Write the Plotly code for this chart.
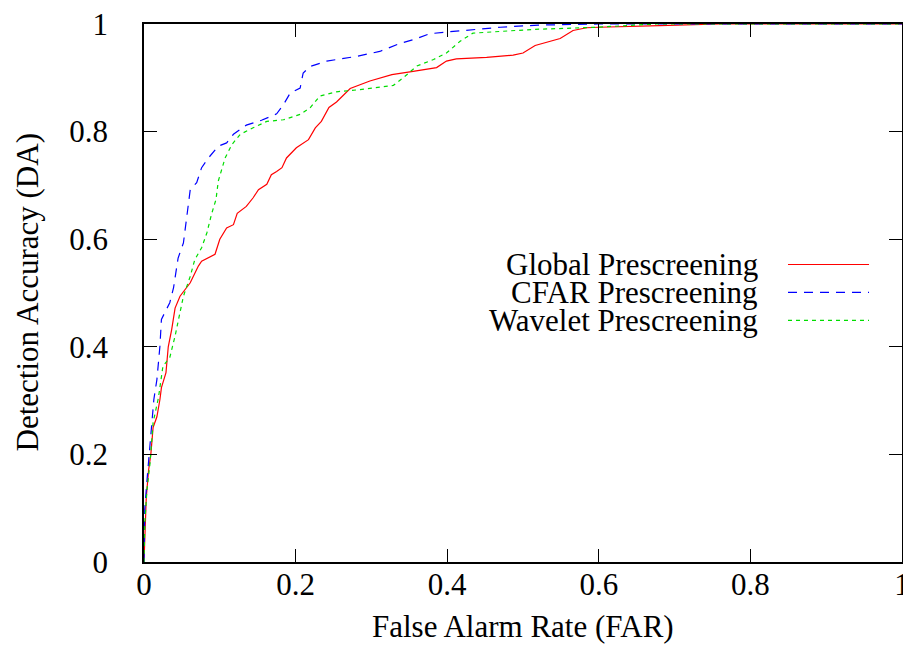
import plotly.graph_objects as go

# Global Prescreening
global_far = [0, 0.001, 0.003, 0.006, 0.009, 0.012, 0.017, 0.021, 0.023, 0.029, 0.032, 0.0365, 0.041, 0.0475,
              0.061, 0.0717, 0.076, 0.0937, 0.1, 0.109, 0.118, 0.123, 0.129, 0.135, 0.144, 0.151, 0.162, 0.168,
              0.175, 0.182, 0.188, 0.201, 0.217, 0.226, 0.234, 0.244, 0.254, 0.272, 0.298, 0.327, 0.355, 0.386,
              0.399, 0.412, 0.452, 0.487, 0.5, 0.516, 0.549, 0.566, 0.584, 0.6, 0.68, 0.76, 1.0]
global_da = [0, 0.06, 0.12, 0.17, 0.2, 0.25, 0.27, 0.302, 0.324, 0.352, 0.40, 0.432, 0.472, 0.494,
             0.519, 0.55, 0.559, 0.572, 0.6, 0.621, 0.627, 0.648, 0.655, 0.661, 0.677, 0.692, 0.702, 0.72,
             0.726, 0.733, 0.751, 0.77, 0.785, 0.807, 0.819, 0.845, 0.855, 0.88, 0.894, 0.906, 0.912, 0.919,
             0.931, 0.935, 0.938, 0.942, 0.946, 0.96, 0.973, 0.988, 0.993, 0.994, 0.997, 1.0, 1.0]

# CFAR Prescreening
cfar_far = [0, 0.001, 0.004, 0.009, 0.013, 0.017, 0.021, 0.023, 0.034, 0.039, 0.045, 0.052, 0.056, 0.06,
            0.061, 0.0695, 0.076, 0.085, 0.098, 0.109, 0.118, 0.135, 0.155, 0.175, 0.184, 0.193, 0.206, 0.21,
            0.219, 0.241, 0.281, 0.311, 0.338, 0.36, 0.377, 0.399, 0.434, 0.47, 0.52, 0.6, 1.0]
cfar_da = [0, 0.098, 0.153, 0.246, 0.302, 0.339, 0.401, 0.451, 0.482, 0.51, 0.565, 0.593, 0.637, 0.678,
           0.692, 0.705, 0.733, 0.751, 0.773, 0.779, 0.795, 0.812, 0.821, 0.833, 0.85, 0.872, 0.881, 0.909,
           0.921, 0.931, 0.94, 0.949, 0.964, 0.973, 0.982, 0.985, 0.99, 0.994, 0.998, 1.0, 1.0]

# Wavelet Prescreening
wave_far = [0, 0.001, 0.004, 0.008, 0.012, 0.019, 0.025, 0.034, 0.041, 0.0475, 0.052, 0.061, 0.067, 0.076,
            0.083, 0.089, 0.095, 0.098, 0.107, 0.116, 0.127, 0.144, 0.162, 0.184, 0.206, 0.219, 0.232, 0.254,
            0.285, 0.329, 0.342, 0.36, 0.382, 0.399, 0.417, 0.434, 0.47, 0.514, 0.558, 0.597, 0.676, 1.0]
wave_da = [0, 0.073, 0.135, 0.184, 0.259, 0.305, 0.364, 0.38, 0.42, 0.463, 0.494, 0.531, 0.562, 0.584,
           0.612, 0.646, 0.674, 0.708, 0.751, 0.776, 0.795, 0.807, 0.819, 0.822, 0.832, 0.844, 0.866, 0.874,
           0.878, 0.886, 0.9, 0.922, 0.934, 0.946, 0.968, 0.983, 0.986, 0.99, 0.992, 0.994, 1.0, 1.0]

series_names = ["Global Prescreening", "CFAR Prescreening", "Wavelet Prescreening"]
tick_vals = [0, 0.2, 0.4, 0.6, 0.8, 1]
tick_text = ["0", "0.2", "0.4", "0.6", "0.8", "1"]

colors = ["#ff0000", "#0000ff", "#00dd00"]
dashes = ["solid", "9px,7px", "4px,4px"]
FONT = "Liberation Serif, Times New Roman, serif"
FS = 31

fig = go.Figure()
for xs, ys, name, c, d in zip([global_far, cfar_far, wave_far], [global_da, cfar_da, wave_da],
                              series_names, colors, dashes):
    fig.add_trace(go.Scatter(x=xs, y=ys, mode="lines", name=name,
                             line=dict(color=c, width=1.2, dash=d), showlegend=False))

axis_common = dict(range=[0, 1], tickvals=tick_vals, ticktext=tick_text, ticks="inside", ticklen=13,
                   tickwidth=1, tickcolor="black", showline=True, linecolor="black", linewidth=1.5,
                   mirror="ticks", showgrid=False, zeroline=False, ticklabeloverflow="allow",
                   automargin=False,
                   tickfont=dict(family=FONT, size=FS, color="black"))

fig.update_layout(
    width=903, height=646,
    margin=dict(l=144, r=1, t=24, b=84),
    paper_bgcolor="white", plot_bgcolor="white",
    xaxis=dict(**axis_common, ticklabelstandoff=-6),
    yaxis=dict(**axis_common, ticklabelstandoff=28),
    showlegend=False,
)

annotations = [
    dict(text="False Alarm Rate (FAR)", xref="paper", yref="paper", x=0.5, y=-0.12,
         xanchor="center", yanchor="middle", showarrow=False,
         font=dict(family=FONT, size=FS, color="black")),
    dict(text="Detection Accuracy (DA)", xref="paper", yref="paper", x=-0.155, y=0.5,
         xanchor="center", yanchor="middle", textangle=-90, showarrow=False,
         font=dict(family=FONT, size=FS, color="black")),
]
row_y = [0.553, 0.501, 0.449]
for name, c, d, yy in zip(series_names, colors, dashes, row_y):
    annotations.append(dict(text=name, xref="paper", yref="paper", x=0.8127, y=yy,
                            xanchor="right", yanchor="middle", showarrow=False,
                            font=dict(family=FONT, size=FS, color="black")))
    fig.add_shape(type="line", xref="paper", yref="paper", x0=0.8496, x1=0.9565, y0=yy, y1=yy,
                  line=dict(color=c, width=1.2, dash=d))
fig.update_layout(annotations=annotations)

fig.write_html("out.html")
